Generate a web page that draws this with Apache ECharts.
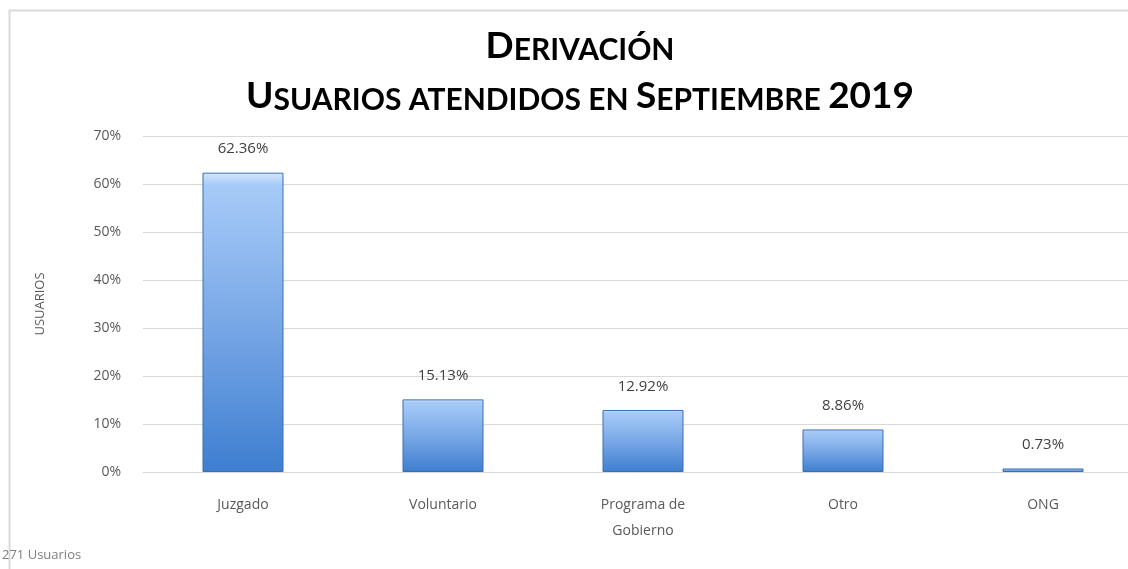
<!DOCTYPE html>
<html>
<head>
<meta charset="utf-8">
<script src="https://cdn.jsdelivr.net/npm/echarts@6/dist/echarts.min.js"></script>
<style>
  html, body { margin: 0; padding: 0; background: #fff; }
  #chart { width: 1128px; height: 569px; }
</style>
</head>
<body>
<div id="chart"></div>
<script>
var categories = ['Juzgado', 'Voluntario', 'Programa de\nGobierno', 'Otro', 'ONG']
var percentages = [62.36, 15.13, 12.92, 8.86, 0.73]
var yTicks = [0, 10, 20, 30, 40, 50, 60, 70]
var footNote = '271 Usuarios'

var chart = echarts.init(document.getElementById('chart'))

var option = {
  animation: false,
  textStyle: { fontFamily: 'Open Sans, DejaVu Sans, sans-serif' },
  title: {
    text: '{big|D}{sm|ERIVACIÓN}\n{big|U}{sm|SUARIOS ATENDIDOS EN }{big|S}{sm|EPTIEMBRE }{big|2019}',
    left: 575,
    textAlign: 'center',
    top: 10,
    textStyle: {
      rich: {
        big: { fontFamily: 'Lato', fontWeight: 'bold', fontSize: 37, color: '#000', lineHeight: 50, verticalAlign: 'bottom' },
        sm: { fontFamily: 'Lato', fontWeight: 'bold', fontSize: 30, color: '#000', lineHeight: 50, verticalAlign: 'bottom' }
      }
    }
  },
  grid: { left: 143, width: 1000, top: 136, bottom: 97, outerBoundsMode: 'none', containLabel: false },
  xAxis: {
    type: 'category',
    data: categories,
    axisTick: { show: false },
    axisLine: { lineStyle: { color: '#d9d9d9' } },
    axisLabel: { color: '#595959', fontSize: 14, lineHeight: 26, margin: 20 }
  },
  yAxis: {
    type: 'value',
    min: yTicks[0],
    max: yTicks[yTicks.length - 1],
    interval: 10,
    name: 'USUARIOS',
    nameLocation: 'middle',
    nameGap: 96,
    nameRotate: 90,
    nameTextStyle: { color: '#595959', fontSize: 13 },
    axisLabel: { color: '#595959', fontSize: 14, margin: 22, formatter: '{value}%' },
    splitLine: { lineStyle: { color: '#d9d9d9' } }
  },
  series: [{
    type: 'bar',
    data: percentages,
    barWidth: 81,
    itemStyle: {
      borderColor: '#3a6fb4',
      borderWidth: 1,
      color: new echarts.graphic.LinearGradient(0, 0, 0, 1, [
        { offset: 0, color: '#d6e8fc' },
        { offset: 0.04, color: '#a7cbf8' },
        { offset: 0.5, color: '#79a8e6' },
        { offset: 1, color: '#3e7ed0' }
      ])
    },
    label: {
      show: true,
      position: 'top',
      distance: 16,
      color: '#404040',
      fontSize: 15,
      formatter: function (p) { return p.value.toFixed(2) + '%' }
    }
  }],
  graphic: [
    {
      type: 'rect',
      shape: { x: 9.5, y: 10.5, width: 1300, height: 700 },
      style: { fill: 'none', stroke: '#d9d9d9', lineWidth: 2 },
      silent: true
    },
    {
      type: 'text',
      left: 2,
      top: 549,
      style: { text: footNote, fill: '#7f7f7f', fontSize: 13, fontFamily: 'Open Sans' }
    }
  ]
}

chart.setOption(option)
</script>
</body>
</html>
